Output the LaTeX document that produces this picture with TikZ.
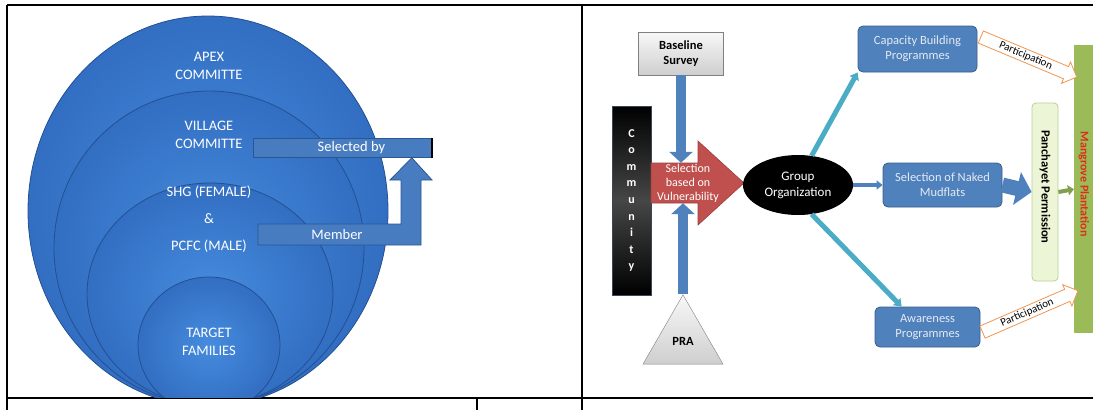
\documentclass[tikz,border=0pt]{standalone}
\usepackage{fontspec}
\setmainfont{Carlito}
\usetikzlibrary{arrows.meta,shapes.geometric,shapes.arrows,positioning}
\newlength{\du}
\setlength{\du}{1pt}

\definecolor{ringin}{RGB}{70,140,222}
\definecolor{ringout}{RGB}{50,110,194}
\definecolor{ringline}{RGB}{36,80,146}
\definecolor{tagblue}{RGB}{72,124,192}
\definecolor{tagline}{RGB}{42,86,146}
\definecolor{boxblue}{RGB}{79,129,189}
\definecolor{boxline}{RGB}{56,93,138}
\definecolor{boxtext}{RGB}{228,234,242}
\definecolor{selred}{RGB}{192,80,77}
\definecolor{linkteal}{RGB}{75,172,198}
\definecolor{permgreen}{RGB}{236,246,214}
\definecolor{permline}{RGB}{185,205,150}
\definecolor{mangreen}{RGB}{155,187,89}
\definecolor{manred}{RGB}{222,45,25}
\definecolor{partorange}{RGB}{240,150,80}

\tikzset{
  rule/.style={line width=1.6\du, black},
  ring/.style={draw=ringline, line width=0.8\du, inner color=ringin, outer color=ringout},
  ringtext/.style={text=white, font=\fontsize{14.5}{18}\selectfont, align=center, inner sep=0},
  tagarrow/.style={fill=tagblue, draw=tagline, line width=0.8\du},
  greybox/.style={draw=gray, top color=gray!6, bottom color=gray!38, align=center, inner sep=0,
    font=\bfseries\fontsize{12.5}{15}\selectfont},
  prog/.style={rectangle, rounded corners=5\du, fill=boxblue, draw=boxline, line width=0.8\du,
    text=boxtext, font=\fontsize{12.5}{15}\selectfont, align=center, inner sep=0},
  fatarrow/.style={line width=10\du, boxblue, -{Triangle[length=11pt,width=23pt]}},
  widearrow/.style={line width=15\du, boxblue, -{Triangle[length=15pt,width=33pt]}},
  thinarrow/.style={line width=4\du, boxblue, -{Triangle[length=6pt,width=9pt]}},
  tealarrow/.style={line width=5\du, linkteal, -{Triangle[length=7pt,width=10pt]}},
  greenarrow/.style={line width=4\du, mangreen!85!black, -{Triangle[length=6pt,width=10pt]}},
  partarrow/.style={single arrow, draw=partorange, fill=white, line width=0.8\du,
    minimum height=104\du, single arrow head extend=5\du, inner ysep=1.5\du, inner xsep=0,
    font=\fontsize{11}{13}\selectfont}
}

\begin{document}
\begin{tikzpicture}[x=1\du,y=-1\du]
\useasboundingbox (0,0) rectangle (1093,410);
% table rules
\draw[rule] (7,5) -- (1093,5);
\draw[rule] (7,5) -- (7,410);
\draw[rule] (582,5) -- (582,410);
\draw[rule] (7,398) -- (1093,398);
\draw[rule] (477,398) -- (477,410);

% left: nested groups
\begin{scope}
\clip (8,6) rectangle (581,397);
\draw[ring] (208,211) ellipse [x radius=180, y radius=195];
\draw[ring] (209,248) ellipse [x radius=155, y radius=157];
\draw[ring] (210,294) ellipse [x radius=123, y radius=111];
\draw[ring] (209,345) ellipse [x radius=71, y radius=68];
\end{scope}
\node[ringtext] (apex) at (209,66) {APEX\\COMMITTE};
\node[ringtext] (village) at (209,135) {VILLAGE\\COMMITTE};
\node[ringtext, font=\fontsize{14.5}{27}\selectfont] (shg) at (209,219) {SHG (FEMALE)\\\&\\PCFC (MALE)};
\node[ringtext] (target) at (209,342) {TARGET\\FAMILIES};

\node[tagarrow, ringtext, rectangle, minimum width=178\du, minimum height=19\du, anchor=north west]
  (selby) at (253,138) {\hspace*{18\du}Selected by};
\draw[line width=2\du] (selby.north east) -- (selby.south east);
\filldraw[tagarrow] (258,224) -| (401,180) -- (390,180) -- ([xshift=-20\du]selby.south east)
  -- (432,180) -- (421,180) |- (258,245) -- cycle;
\node[ringtext] (member) at (337,235) {Member};

% right: flow
\node[greybox, minimum width=85\du, minimum height=43\du] (base) at (681,53.5) {Baseline\\Survey};
\node[draw={rgb,255:red,60;green,70;blue,90}, top color=black, bottom color=black, middle color=gray!55!black,
  minimum width=39\du, minimum height=189\du, inner sep=0, text=white, align=center,
  font=\bfseries\fontsize{12}{16.6}\selectfont] (comm) at (631.5,200.5) {C\\o\\m\\m\\u\\n\\i\\t\\y};
\filldraw[fill=selred, draw=selred!80!black, line width=0.6\du]
  (651,163) -- (698,163) -- (698,141) -- (744,183) -- (698,225) -- (698,203) -- (651,203) -- cycle;
\node[text=white, align=center, inner sep=0, minimum height=40\du, font=\fontsize{12}{14}\selectfont]
  (sel) at (688,183) {Selection\\based on\\Vulnerability};
\node[regular polygon, regular polygon sides=3, greybox, minimum size=92.4\du] (pra) at (683,341) {\raisebox{-6\du}{PRA}};
\draw[fatarrow] (base.south) -- (base.south |- sel.north);
\draw[fatarrow] (pra.north) -- (pra.north |- sel.south);

\node[ellipse, fill=black, minimum width=110\du, minimum height=60\du, inner sep=0, text=white, align=center,
  font=\fontsize{13}{16}\selectfont] (grp) at (798,185) {Group\\Organization};

\node[prog, minimum width=119\du, minimum height=46\du] (cap) at (917.5,49) {Capacity Building\\Programmes};
\node[prog, minimum width=119\du, minimum height=44\du] (mud) at (942.5,185) {Selection of Naked\\Mudflats};
\node[prog, minimum width=105\du, minimum height=40\du] (awr) at (927.5,327) {Awareness\\Programmes};

\node[rectangle, rounded corners=4\du, fill=permgreen, draw=permline, line width=0.8\du,
  minimum width=26\du, minimum height=178\du, inner sep=0] (perm) at (1045,192) {};
\node[rotate=-90, inner sep=0, font=\bfseries\fontsize{12.5}{15}\selectfont] (permtext)
  at ([yshift=5\du]perm.center) {Panchayet Permission};
\node[fill=mangreen, minimum width=19\du, minimum height=288\du, inner sep=0, anchor=north west]
  (mang) at (1074,45) {};
\node[rotate=-90, inner sep=0, text=manred, font=\bfseries\fontsize{12}{14}\selectfont] (mangtext)
  at ([yshift=5\du]mang.center) {Mangrove Plantation};

\draw[tealarrow] (grp.65) -- (cap.south west);
\draw[tealarrow] (grp.-65) -- ([xshift=27\du]awr.north west);
\draw[thinarrow] (grp.east) -- (mud.west);
\draw[widearrow] (mud.east) -- (perm.west);
\draw[greenarrow] (perm.east) -- (mang.west);

\path ([yshift=-10\du]cap.north east) -- ([yshift=-31\du]mang.north west)
  node[midway, sloped, partarrow] (part1) {Participation};
\path ([yshift=-6\du]awr.east) -- ([yshift=41\du]mang.south west)
  node[midway, sloped, partarrow] (part2) {Participation};
\end{tikzpicture}
\end{document}
